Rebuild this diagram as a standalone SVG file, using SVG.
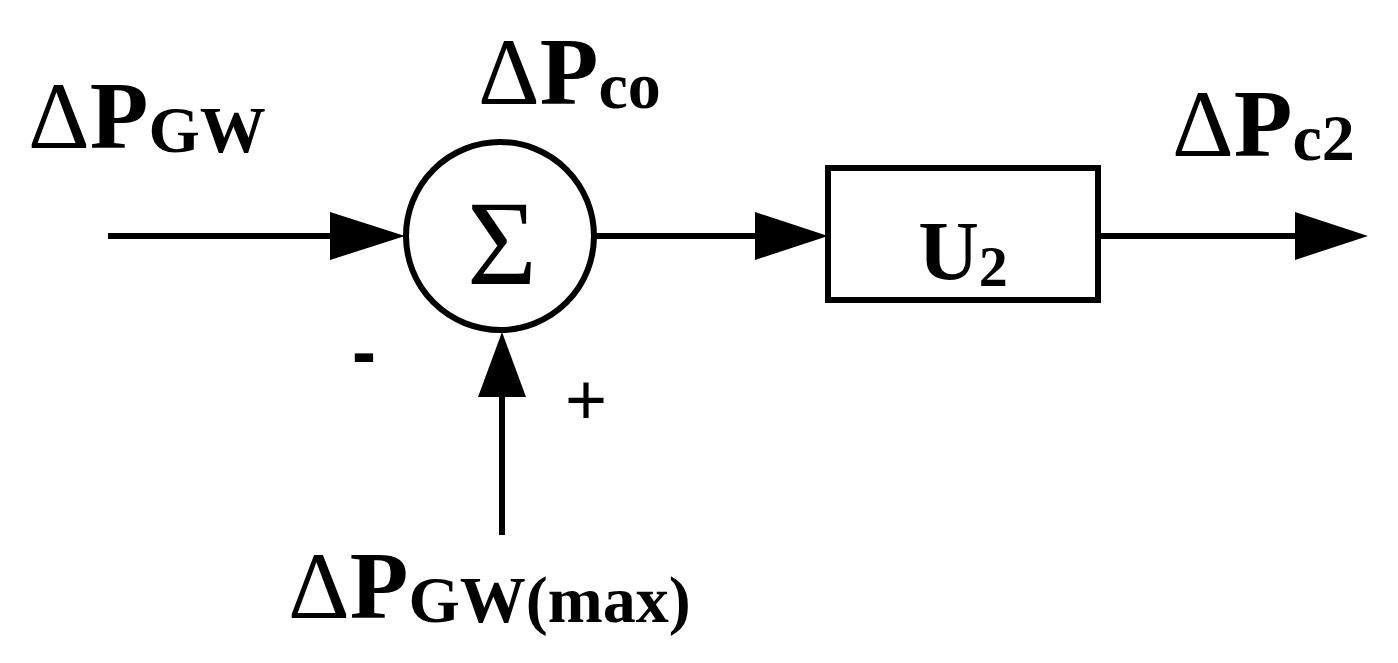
<svg xmlns="http://www.w3.org/2000/svg" width="1398" height="663" viewBox="0 0 1398 663">
<style>
.t{font-family:"Liberation Serif",serif;font-weight:bold;fill:#000}
.d{font-weight:normal}
.big{font-size:96px}
.sub{font-size:66px}
.ln{stroke:#000;stroke-width:6;fill:none}
</style>
<rect width="1398" height="663" fill="#fff"/>
<g id="connectors">
<line class="ln" x1="108" y1="236" x2="335" y2="236"/>
<path d="M330,212 L405,236 L330,260 z"/>
<line class="ln" x1="596" y1="236" x2="760" y2="236"/>
<path d="M755,212 L828,236 L755,260 z"/>
<line class="ln" x1="1098" y1="236" x2="1300" y2="236"/>
<path d="M1295,212 L1368,236 L1295,260 z"/>
<line class="ln" x1="502" y1="535" x2="502" y2="390"/>
<path d="M478,397 L502,332 L526,397 z"/>
</g>
<g id="sum">
<circle class="ln" cx="500" cy="236" r="94"/>
<text x="502" y="284" text-anchor="middle" style="font-family:'Liberation Serif',serif;font-size:120px">Σ</text>
</g>
<g id="u2">
<rect class="ln" x="828" y="168" width="270" height="132"/>
<text class="t" x="963" y="280" text-anchor="middle" style="font-size:84px">U<tspan style="font-size:58px" dy="6">2</tspan></text>
</g>
<g id="labels">
<text class="t big" x="28" y="148"><tspan class="d">Δ</tspan>P<tspan class="sub" dy="4">GW</tspan></text>
<text class="t big" x="478" y="104"><tspan class="d">Δ</tspan>P<tspan class="sub" dy="4">co</tspan></text>
<text class="t big" x="1172" y="156"><tspan class="d">Δ</tspan>P<tspan class="sub" dy="4">c2</tspan></text>
<text class="t big" x="288" y="618"><tspan class="d">Δ</tspan>P<tspan class="sub" dy="4">GW(max)</tspan></text>
<text x="364" y="376" text-anchor="middle" style="font-family:'Liberation Sans',sans-serif;font-weight:bold;font-size:72px">-</text>
<text x="586" y="424" text-anchor="middle" style="font-family:'Liberation Sans',sans-serif;font-size:72px">+</text>
</g>
</svg>
